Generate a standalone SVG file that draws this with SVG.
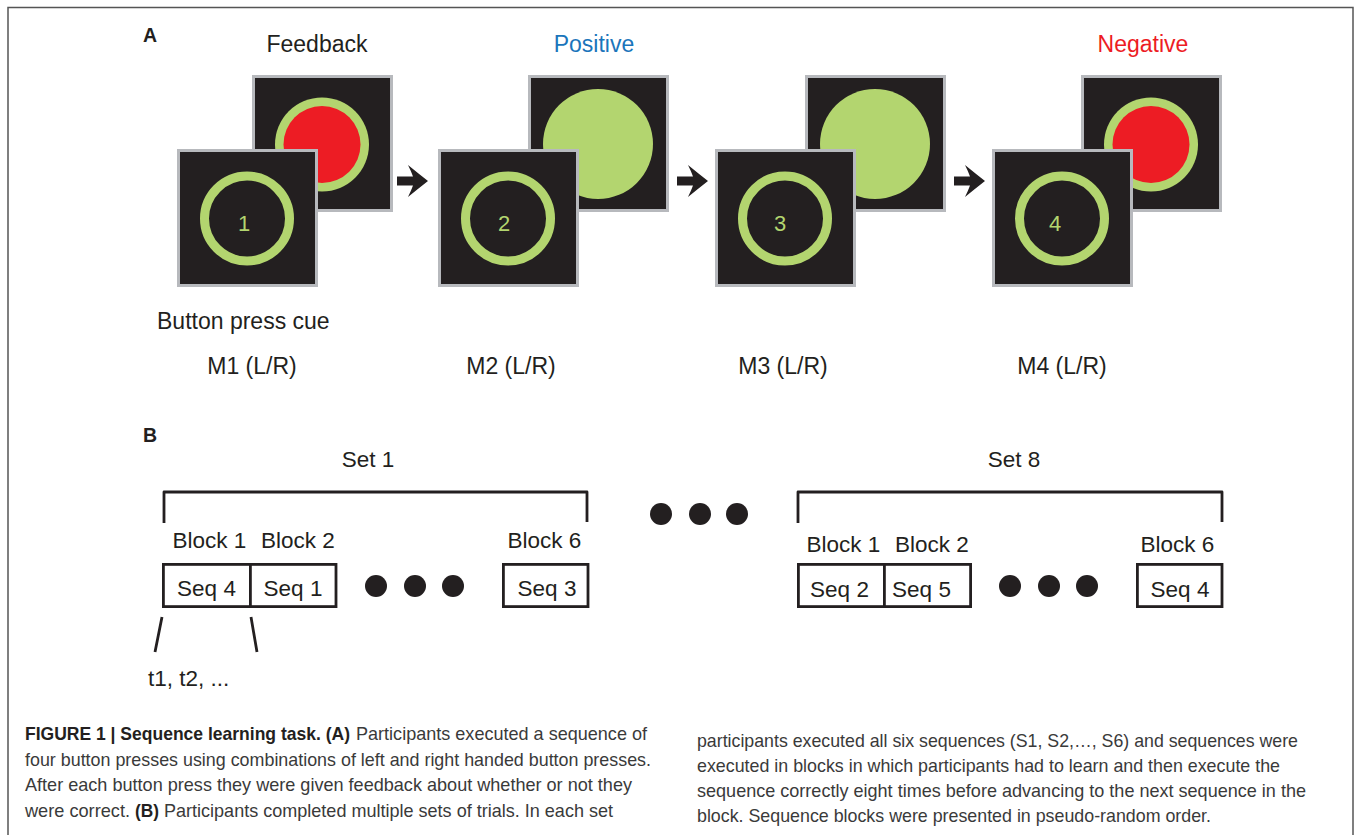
<svg xmlns="http://www.w3.org/2000/svg" width="1356" height="835" viewBox="0 0 1356 835">
  <style>
    .lbl { font-family: "Liberation Sans", Arial, sans-serif; fill: #231f20; }
    .big { font-size: 23px; }
    .mid { font-size: 22.5px; }
    .tag { font-family: "Liberation Sans", Arial, sans-serif; font-weight: bold; font-size: 19.5px; fill: #231f20; }
    .scr { fill: #231f20; stroke: #b7b9bd; stroke-width: 3; }
    .ring { fill: none; stroke: #b3d56f; stroke-width: 9; }
    .num { font-family: "Liberation Sans", Arial, sans-serif; font-size: 22px; fill: #b3d56f; text-anchor: middle; }
    .box { fill: #ffffff; stroke: #231f20; stroke-width: 2.8; }
    .brk { fill: none; stroke: #231f20; stroke-width: 2.8; stroke-linejoin: round; }
    .dot { fill: #231f20; }
    .cap { font-family: "Liberation Sans", Arial, sans-serif; font-size: 18.5px; fill: #3a3a3a; }
    .capb { font-family: "Liberation Sans", Arial, sans-serif; font-size: 18.5px; font-weight: bold; fill: #231f20; }
  </style>
  <defs>
    <path id="arrow" d="M0,-4.5 L16,-4.5 Q14,-10 11,-16 Q22,-7 31,0 Q22,7 11,16 Q14,10 16,4.5 L0,4.5 Z" fill="#231f20"/>
  </defs>

  <rect width="1356" height="835" fill="#ffffff"/>
  <!-- figure frame, open at the bottom -->
  <path d="M8,835 V7.5 H1353 V835" fill="none" stroke="#555555" stroke-width="1.5"/>

  <!-- panel A -->
  <text class="tag" x="143" y="42">A</text>
  <text class="lbl big" x="317" y="52" text-anchor="middle">Feedback</text>
  <text class="lbl big" x="594" y="52" text-anchor="middle" style="fill:#1b75bb">Positive</text>
  <text class="lbl big" x="1143" y="52" text-anchor="middle" style="fill:#ed1c24">Negative</text>

  <g id="trial1">
    <rect class="scr" x="253.5" y="76.5" width="138" height="134"/>
    <circle cx="322" cy="144.5" r="47" fill="#b3d56f"/>
    <circle cx="322" cy="144.5" r="38.5" fill="#ed1c24"/>
    <rect class="scr" x="178.5" y="150.5" width="138" height="135"/>
    <circle class="ring" cx="247" cy="218.5" r="42.5"/>
    <text class="num" x="244" y="231">1</text>
  </g>

  <g id="trial2">
    <rect class="scr" x="529.5" y="76.5" width="138" height="134"/>
    <circle cx="598" cy="144" r="55" fill="#b3d56f"/>
    <rect class="scr" x="439.5" y="150.5" width="138" height="135"/>
    <circle class="ring" cx="508" cy="218.5" r="42.5"/>
    <text class="num" x="504" y="231">2</text>
  </g>

  <g id="trial3">
    <rect class="scr" x="806.5" y="76.5" width="138" height="134"/>
    <circle cx="875" cy="144" r="55" fill="#b3d56f"/>
    <rect class="scr" x="716.5" y="150.5" width="138" height="135"/>
    <circle class="ring" cx="785" cy="218.5" r="42.5"/>
    <text class="num" x="780" y="231">3</text>
  </g>

  <g id="trial4">
    <rect class="scr" x="1082.5" y="76.5" width="138" height="134"/>
    <circle cx="1151" cy="144.5" r="47" fill="#b3d56f"/>
    <circle cx="1151" cy="144.5" r="38.5" fill="#ed1c24"/>
    <rect class="scr" x="993.5" y="150.5" width="138" height="135"/>
    <circle class="ring" cx="1062" cy="218.5" r="42.5"/>
    <text class="num" x="1055" y="231">4</text>
  </g>

  <g id="connectors">
    <use href="#arrow" x="397" y="181"/>
    <use href="#arrow" x="677" y="181"/>
    <use href="#arrow" x="954" y="181"/>
  </g>

  <text class="lbl big" x="157" y="329">Button press cue</text>
  <text class="lbl big" x="252" y="374" text-anchor="middle">M1 (L/R)</text>
  <text class="lbl big" x="511" y="374" text-anchor="middle">M2 (L/R)</text>
  <text class="lbl big" x="783" y="374" text-anchor="middle">M3 (L/R)</text>
  <text class="lbl big" x="1062" y="374" text-anchor="middle">M4 (L/R)</text>

  <!-- panel B -->
  <text class="tag" x="143" y="442">B</text>

  <g id="set1">
    <text class="lbl mid" x="368" y="467" text-anchor="middle">Set 1</text>
    <path class="brk" d="M164,523 V492 H587 V522"/>
    <text class="lbl mid" x="209.5" y="548" text-anchor="middle">Block 1</text>
    <text class="lbl mid" x="298" y="548" text-anchor="middle">Block 2</text>
    <text class="lbl mid" x="544.5" y="548" text-anchor="middle">Block 6</text>
    <rect class="box" x="163.4" y="564.4" width="87" height="42.2"/>
    <rect class="box" x="250.4" y="564.4" width="85.6" height="42.2"/>
    <rect class="box" x="503.4" y="564.4" width="84.6" height="42.2"/>
    <text class="lbl mid" x="206.5" y="596" text-anchor="middle">Seq 4</text>
    <text class="lbl mid" x="293" y="596" text-anchor="middle">Seq 1</text>
    <text class="lbl mid" x="547" y="596" text-anchor="middle">Seq 3</text>
    <circle class="dot" cx="376" cy="586" r="11"/>
    <circle class="dot" cx="415" cy="586" r="11"/>
    <circle class="dot" cx="453" cy="586" r="11"/>
    <path class="brk" d="M162,617 L155,652 M251,617 L257,652"/>
    <text class="lbl mid" x="148" y="686">t1, t2, ...</text>
  </g>

  <g id="between">
    <circle class="dot" cx="661" cy="514" r="11"/>
    <circle class="dot" cx="700" cy="514" r="11"/>
    <circle class="dot" cx="737" cy="514" r="11"/>
  </g>

  <g id="set8">
    <text class="lbl mid" x="1014" y="467" text-anchor="middle">Set 8</text>
    <path class="brk" d="M798,523 V492 H1222 V522"/>
    <text class="lbl mid" x="843.5" y="552" text-anchor="middle">Block 1</text>
    <text class="lbl mid" x="932" y="552" text-anchor="middle">Block 2</text>
    <text class="lbl mid" x="1177.5" y="552" text-anchor="middle">Block 6</text>
    <rect class="box" x="798.4" y="564.4" width="86" height="42.2"/>
    <rect class="box" x="884.4" y="564.4" width="86.2" height="42.2"/>
    <rect class="box" x="1137.4" y="564.4" width="84.6" height="42.2"/>
    <text class="lbl mid" x="839.5" y="597" text-anchor="middle">Seq 2</text>
    <text class="lbl mid" x="921.5" y="597" text-anchor="middle">Seq 5</text>
    <text class="lbl mid" x="1180" y="597" text-anchor="middle">Seq 4</text>
    <circle class="dot" cx="1010" cy="586" r="11"/>
    <circle class="dot" cx="1049" cy="586" r="11"/>
    <circle class="dot" cx="1087" cy="586" r="11"/>
  </g>

  <!-- caption, two columns -->
  <g id="caption">
    <text class="capb" x="25" y="740" textLength="325" lengthAdjust="spacingAndGlyphs">FIGURE 1 | Sequence learning task. (A)</text>
    <text class="cap" x="356" y="740" textLength="291" lengthAdjust="spacingAndGlyphs">Participants executed a sequence of</text>
    <text class="cap" x="25" y="766" textLength="626" lengthAdjust="spacingAndGlyphs">four button presses using combinations of left and right handed button presses.</text>
    <text class="cap" x="25" y="791" textLength="607" lengthAdjust="spacingAndGlyphs">After each button press they were given feedback about whether or not they</text>
    <text class="cap" x="25" y="817" textLength="105" lengthAdjust="spacingAndGlyphs">were correct.</text>
    <text class="capb" x="135" y="817" textLength="24" lengthAdjust="spacingAndGlyphs">(B)</text>
    <text class="cap" x="164" y="817" textLength="449" lengthAdjust="spacingAndGlyphs">Participants completed multiple sets of trials. In each set</text>

    <text class="cap" x="697" y="747" textLength="601" lengthAdjust="spacingAndGlyphs">participants executed all six sequences (S1, S2,…, S6) and sequences were</text>
    <text class="cap" x="697" y="772" textLength="583" lengthAdjust="spacingAndGlyphs">executed in blocks in which participants had to learn and then execute the</text>
    <text class="cap" x="697" y="797" textLength="609" lengthAdjust="spacingAndGlyphs">sequence correctly eight times before advancing to the next sequence in the</text>
    <text class="cap" x="697" y="822" textLength="514" lengthAdjust="spacingAndGlyphs">block. Sequence blocks were presented in pseudo-random order.</text>
  </g>
</svg>
